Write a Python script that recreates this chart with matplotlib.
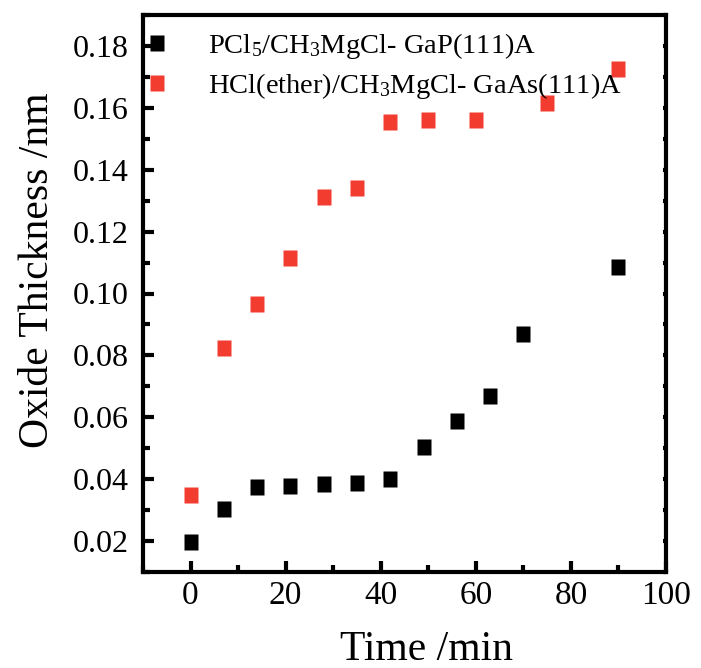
import matplotlib
matplotlib.use("Agg")
import matplotlib.pyplot as plt
from matplotlib.ticker import MultipleLocator, FormatStrFormatter

# Data
black_x = [0, 7, 14, 21, 28, 35, 42, 49, 56, 63, 70, 90]
black_y = [0.0196, 0.0303, 0.0375, 0.0377, 0.0384, 0.0386, 0.0402, 0.0504, 0.0588, 0.0670, 0.0868, 0.1085]
red_x = [0, 7, 14, 21, 28, 35, 42, 50, 60, 75, 90]
red_y = [0.0348, 0.0825, 0.0965, 0.1115, 0.1312, 0.1341, 0.1555, 0.1560, 0.1560, 0.1616, 0.1726]
black_label = r'PCl$_\mathrm{5}$/CH$_\mathrm{3}$MgCl- GaP(111)A'
red_label = r'HCl(ether)/CH$_\mathrm{3}$MgCl- GaAs(111)A'
x_label = 'Time /min'
y_label = 'Oxide Thickness /nm'

plt.rcParams['font.family'] = ['Liberation Serif', 'DejaVu Serif']
plt.rcParams['mathtext.fontset'] = 'custom'
plt.rcParams['mathtext.rm'] = 'Liberation Serif'
plt.rcParams['mathtext.it'] = 'Liberation Serif'

fig = plt.figure(figsize=(7.01, 6.68), dpi=100)
ax = fig.add_axes([143/701, 1 - 572/668, (666-143)/701, (572-15)/668])

rect = [(-0.39, -0.5), (0.39, -0.5), (0.39, 0.5), (-0.39, 0.5), (-0.39, -0.5)]
ax.plot(black_x, black_y, linestyle='none', marker=rect, ms=12, color='black',
        mec='none', label=black_label)
ax.plot(red_x, red_y, linestyle='none', marker=rect, ms=12, color='#f33c30',
        mec='none', label=red_label)

ax.set_xlim(-10, 100)
ax.set_ylim(0.01, 0.19)
ax.xaxis.set_major_locator(MultipleLocator(20))
ax.xaxis.set_minor_locator(MultipleLocator(10))
ax.yaxis.set_major_locator(MultipleLocator(0.02))
ax.yaxis.set_minor_locator(MultipleLocator(0.01))
ax.yaxis.set_major_formatter(FormatStrFormatter('%.2f'))

for s in ax.spines.values():
    s.set_linewidth(3)

ax.tick_params(which='major', direction='in', length=8, width=3, labelsize=23)
ax.tick_params(which='minor', direction='in', length=5, width=3)
ax.tick_params(axis='y', which='both', pad=10, right=True, labelright=False)
ax.tick_params(axis='x', which='major', pad=6, labelsize=24)
# short right ticks
for t in ax.yaxis.get_major_ticks() + ax.yaxis.get_minor_ticks():
    t.tick2line.set_markersize(2)

ax.set_xlabel(x_label, fontsize=30, va='baseline')
ax.xaxis.set_label_coords((427-143)/523, -(660-572)/557)
ax.set_ylabel(y_label, fontsize=30, va='center')
ax.yaxis.set_label_coords((38-143)/523, (572-270)/557)

leg = ax.legend(loc='upper left', bbox_to_anchor=(-0.005, 0.977), frameon=False,
                fontsize=20.5, handlelength=1.0, handletextpad=1.29,
                borderpad=0.1, borderaxespad=0.0, labelspacing=0.36)

fig.savefig('out.png', dpi=100)
